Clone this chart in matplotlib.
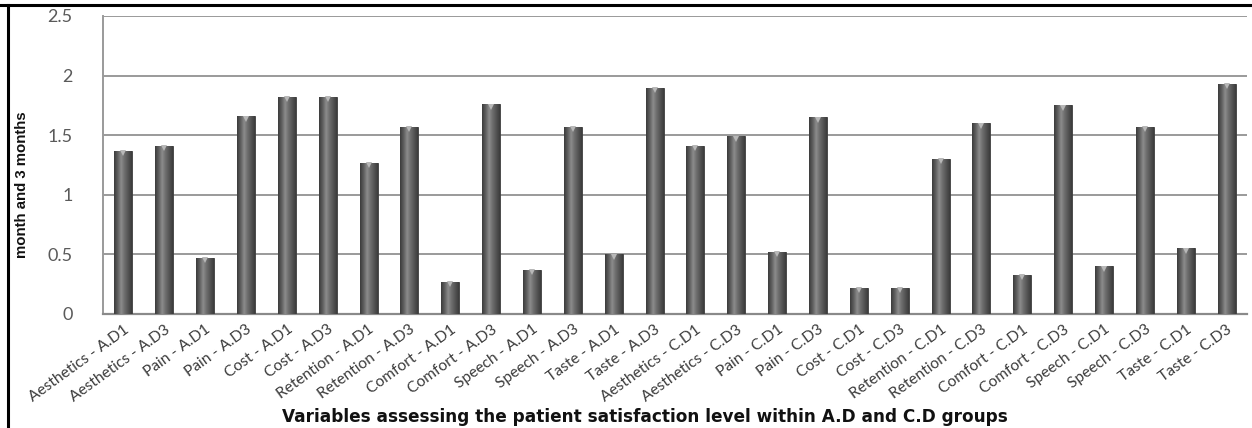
import numpy as np
import matplotlib
matplotlib.use("Agg")
import matplotlib.pyplot as plt
from matplotlib.lines import Line2D
from matplotlib.colors import LinearSegmentedColormap

categories = [
    "Aesthetics - A.D1", "Aesthetics - A.D3", "Pain - A.D1", "Pain - A.D3",
    "Cost - A.D1", "Cost - A.D3", "Retention - A.D1", "Retention - A.D3",
    "Comfort - A.D1", "Comfort - A.D3", "Speech - A.D1", "Speech - A.D3",
    "Taste - A.D1", "Taste - A.D3", "Aesthetics - C.D1", "Aesthetics - C.D3",
    "Pain - C.D1", "Pain - C.D3", "Cost - C.D1", "Cost - C.D3",
    "Retention - C.D1", "Retention - C.D3", "Comfort - C.D1", "Comfort - C.D3",
    "Speech - C.D1", "Speech - C.D3", "Taste - C.D1", "Taste - C.D3",
]
values = [
    1.37, 1.41, 0.47, 1.66, 1.82, 1.82, 1.27, 1.57,
    0.27, 1.76, 0.37, 1.57, 0.50, 1.90, 1.41, 1.49,
    0.52, 1.65, 0.22, 0.22, 1.30, 1.60, 0.33, 1.75,
    0.40, 1.57, 0.55, 1.93,
]
yticks = [0, 0.5, 1, 1.5, 2, 2.5]
ytick_labels = ["0", "0.5", "1", "1.5", "2", "2.5"]

W, H = 1252, 428
fig = plt.figure(figsize=(W / 100, H / 100), dpi=100)
ax = fig.add_axes([103 / W, 1 - 314 / H, 1144 / W, (314 - 16) / H])

x = np.arange(len(categories))
bars = ax.bar(x, values, width=0.44, color="#606060", edgecolor="#3c3c3c",
              linewidth=0.6, zorder=3)

cmap = LinearSegmentedColormap.from_list(
    "cyl", ["#3c3c3c", "#5e5e5e", "#8c8c8c", "#6c6c6c", "#545454", "#3c3c3c"])
grad = np.linspace(0, 1, 64).reshape(1, -1)
for b in bars:
    bx, by = b.get_x(), b.get_y()
    bw, bh = b.get_width(), b.get_height()
    im = ax.imshow(grad, cmap=cmap, aspect="auto",
                   extent=(bx, bx + bw, by, by + bh), zorder=4,
                   interpolation="bilinear")
    im.set_clip_path(b)
    ax.plot(bx + bw / 2, by + bh - 0.02, marker="v", color="#b8b8b8",
            markersize=5, zorder=5, markeredgewidth=0)

ax.set_xlim(-0.5, len(categories) - 0.5)
ax.set_ylim(0, 2.5)
ax.set_yticks(yticks)
ax.set_yticklabels(ytick_labels, fontsize=13, color="#5a5a5a", family="Lato")
ax.tick_params(axis="y", length=0, pad=22)
ax.tick_params(axis="x", length=0, pad=6)
ax.set_xticks(x)
ax.set_xticklabels(categories, rotation=36, ha="right", rotation_mode="anchor",
                   fontsize=11.2, color="#3c3c3c", family="Lato")
ax.grid(axis="y", color="#9a9a9a", linewidth=1.4, zorder=0)
for s in ["top", "right"]:
    ax.spines[s].set_visible(False)
ax.spines["left"].set_color("#9a9a9a")
ax.spines["bottom"].set_color("#8a8a8a")
ax.spines["left"].set_linewidth(1.4)
ax.spines["bottom"].set_linewidth(1.6)

fig.text(645 / W, 1 - 417 / H,
         "Variables assessing the patient satisfaction level within A.D and C.D groups",
         ha="center", va="center", fontsize=12.2, fontweight="bold",
         family="DejaVu Sans", color="#111111")
fig.text(22 / W, 1 - 185 / H, "month and 3 months", rotation=90,
         ha="center", va="center", fontsize=10.8, fontweight="bold",
         family=["Liberation Sans", "DejaVu Sans"], color="#111111")

fig.add_artist(Line2D([0, 1], [1 - 5 / H, 1 - 5 / H], transform=fig.transFigure,
                      color="black", linewidth=2.2))
fig.add_artist(Line2D([8 / W, 8 / W], [0, 1 - 5 / H], transform=fig.transFigure,
                      color="black", linewidth=2.2))

fig.savefig("out.png", dpi=100)
